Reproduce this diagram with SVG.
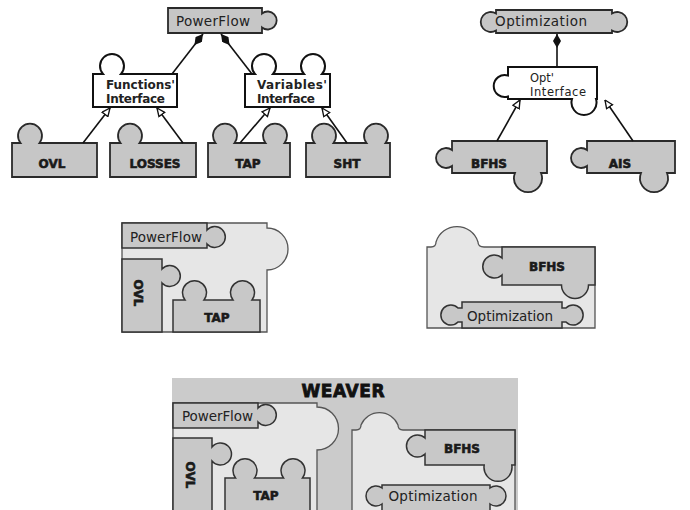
<svg xmlns="http://www.w3.org/2000/svg" width="690" height="510" viewBox="0 0 690 510">
<style>
.pc{fill:#c6c6c6;stroke:#2a2a2a;stroke-width:1.8}
.ifc{fill:#fff;stroke:#111;stroke-width:2}
.ct{fill:#e6e6e6;stroke:#555;stroke-width:1.3}
.pi{fill:#c8c8c8;stroke:#333;stroke-width:1.5}
.lb{font-family:"DejaVu Sans",sans-serif;font-weight:bold;font-size:12px;fill:#1a1a1a;stroke:#1a1a1a;stroke-width:0.6;text-anchor:middle}
.rt{font-family:"DejaVu Sans",sans-serif;font-size:13.5px;fill:#222}
.it{font-family:"DejaVu Sans",sans-serif;font-size:12px;font-weight:bold;fill:#222}
.ot{font-family:"DejaVu Sans",sans-serif;font-size:11.5px;fill:#222}
.wv{font-family:"DejaVu Sans",sans-serif;font-size:17px;font-weight:bold;fill:#111;stroke:#111;stroke-width:0.8;text-anchor:middle}
.conn line{stroke:#111;stroke-width:1.6}
</style>
<defs>
<marker id="tri" viewBox="0 0 10 10" refX="10" refY="5" markerWidth="9" markerHeight="9" orient="auto" markerUnits="userSpaceOnUse"><path d="M1,1 L10,5 L1,9 Z" fill="#fff" stroke="#111" stroke-width="1.5"/></marker>
<marker id="dia" viewBox="0 0 14 8" refX="14" refY="4" markerWidth="14" markerHeight="8" orient="auto" markerUnits="userSpaceOnUse"><path d="M0,4 L7,0 L14,4 L7,8 Z" fill="#111"/></marker>
</defs>
<rect width="690" height="510" fill="#fff"/>

<!-- Top left tree -->
<g id="powerflow">
<path class="pc" d="M168,8 H262 V13.5 A9 9 0 1 1 262,27.5 V33 H168 Z"/>
<text class="rt" x="213" y="26" text-anchor="middle" textLength="74">PowerFlow</text>
</g>
<g id="functions-interface">
<path class="ifc" d="M93,74 H103 A12 12 0 1 1 121,74 H177 V107 H93 Z"/>
<text class="it" x="106" y="89" textLength="69">Functions'</text>
<text class="it" x="106" y="103" textLength="59">Interface</text>
</g>
<g id="variables-interface">
<path class="ifc" d="M245,74 H255 A12 12 0 1 1 273,74 H304 A12 12 0 1 1 322,74 H330 V107 H245 Z"/>
<text class="it" x="257" y="89" textLength="70">Variables'</text>
<text class="it" x="257" y="103" textLength="58">Interface</text>
</g>
<g id="ovl">
<path class="pc" d="M12,143 H20.5 A12 12 0 1 1 39.5,143 H97 V177 H12 Z"/>
<text class="lb" x="52" y="168">OVL</text>
</g>
<g id="losses">
<path class="pc" d="M110,143 H120.5 A12 12 0 1 1 139.5,143 H196 V177 H110 Z"/>
<text class="lb" x="155" y="168">LOSSES</text>
</g>
<g id="tap">
<path class="pc" d="M208,143 H215.5 A12 12 0 1 1 234.5,143 H265.5 A12 12 0 1 1 284.5,143 H290 V177 H208 Z"/>
<text class="lb" x="248" y="168">TAP</text>
</g>
<g id="sht">
<path class="pc" d="M306,143 H314.5 A12 12 0 1 1 333.5,143 H366.5 A12 12 0 1 1 385.5,143 H390 V177 H306 Z"/>
<text class="lb" x="347" y="168">SHT</text>
</g>

<!-- Top right tree -->
<g id="optimization">
<path class="pc" d="M496,10 H612 V13.5 A10 10 0 1 1 612,30.5 V33 H496 V30.5 A10 10 0 1 1 496,13.5 Z"/>
<text class="rt" x="541" y="26" text-anchor="middle" textLength="92">Optimization</text>
</g>
<g id="opt-interface">
<path class="ifc" d="M508,67 H597 V99 H596 A12.5 12.5 0 1 1 572,99 H508 V96.5 A11 11 0 1 1 508,75.5 Z"/>
<text class="ot" x="530" y="82">Opt'</text>
<text class="ot" x="530" y="96" textLength="56">Interface</text>
</g>
<g id="bfhs">
<path class="pc" d="M452,141 H547 V173 H541 A14 14 0 1 1 515,173 H452 V166 A10 10 0 1 1 452,150 Z"/>
<text class="lb" x="489" y="168">BFHS</text>
</g>
<g id="ais">
<path class="pc" d="M587,141 H675 V173 H667 A14 14 0 1 1 641,173 H587 V166 A10 10 0 1 1 587,150 Z"/>
<text class="lb" x="620" y="168">AIS</text>
</g>

<g id="connectors" class="conn">
<line x1="172" y1="74" x2="203" y2="34" marker-end="url(#dia)"/>
<line x1="252" y1="74" x2="221" y2="34" marker-end="url(#dia)"/>
<line x1="557" y1="67" x2="557" y2="34" marker-end="url(#dia)"/>
<line x1="83" y1="143" x2="110" y2="108" marker-end="url(#tri)"/>
<line x1="183" y1="143" x2="157" y2="108" marker-end="url(#tri)"/>
<line x1="240" y1="143" x2="270" y2="108" marker-end="url(#tri)"/>
<line x1="347" y1="143" x2="322" y2="108" marker-end="url(#tri)"/>
<line x1="497" y1="141" x2="520" y2="100" marker-end="url(#tri)"/>
<line x1="633" y1="141" x2="605" y2="100" marker-end="url(#tri)"/>
</g>

<!-- Middle left composite -->
<g id="powerflow-composite">
<path class="ct" d="M122,223 H267 V228 A21 21 0 0 1 267,270 V332 H122 Z"/>
<path class="pi" d="M122,223 H207 V230 A10.5 10.5 0 1 1 207,244 V248 H122 Z"/>
<text class="rt" x="130" y="242" textLength="72">PowerFlow</text>
<path class="pi" d="M122,259 H162 V269 A10.5 10.5 0 1 1 162,283 V332 H122 Z"/>
<text class="lb" x="0" y="0" transform="translate(138,293) rotate(90) translate(0,4.5)">OVL</text>
<path class="pi" d="M173,300 H185 A12 12 0 1 1 204,300 H233 A12 12 0 1 1 252,300 H260 V332 H173 Z"/>
<text class="lb" x="217" y="322">TAP</text>
</g>

<!-- Middle right composite -->
<g id="optimization-composite">
<path class="ct" d="M427,247 H431 Q436,247 436,242 A22 22 0 0 1 478,242 Q478,247 484,247 H595 V328 H427 Z"/>
<path class="pi" d="M502,247 H595 V285 H588.5 A13.5 13.5 0 1 1 561.5,285 H502 V275 A11.5 11.5 0 1 1 502,258 Z"/>
<text class="lb" x="547" y="271">BFHS</text>
<path class="pi" d="M462,302 H562 V308 H566 A10 10 0 1 1 566,322 H562 V328 H462 V322 H458 A10 10 0 1 1 458,308 H462 Z"/>
<text class="rt" x="510" y="321" text-anchor="middle" textLength="86">Optimization</text>
</g>

<!-- Weaver -->
<g id="weaver">
<rect x="172" y="378" width="346" height="134" fill="#cbcbcb"/>
<text class="wv" x="343" y="397" textLength="83">WEAVER</text>
</g>
<g id="weaver-powerflow">
<path class="ct" d="M173,403 H317 V407 A21.5 21.5 0 0 1 317,450 V512 H173 Z"/>
<path class="pi" d="M173,403 H258 V408 A10.5 10.5 0 1 1 258,422 V428 H173 Z"/>
<text class="rt" x="182" y="421" textLength="71">PowerFlow</text>
<path class="pi" d="M173,438 H212 V447 A11 11 0 1 1 212,461 V512 H173 Z"/>
<text class="lb" x="0" y="0" transform="translate(190,475) rotate(90) translate(0,4.5)">OVL</text>
<path class="pi" d="M225,478 H235.5 A12 12 0 1 1 254.5,478 H283.5 A12 12 0 1 1 302.5,478 H310 V512 H225 Z"/>
<text class="lb" x="266" y="500">TAP</text>
</g>
<g id="weaver-optimization">
<path class="ct" d="M352,430 H356 Q361,430 361,425 A20 20 0 0 1 398,425 Q398,430 403,430 H515 V512 H352 Z"/>
<path class="pi" d="M425,430 H515 V465 H511.8 A14 14 0 1 1 484.2,465 H425 V454 A11 11 0 1 1 425,438 Z"/>
<text class="lb" x="462" y="453">BFHS</text>
<path class="pi" d="M382,485 H490 V488 A10 10 0 1 1 490,504 V512 H382 V504 A10 10 0 1 1 382,488 Z"/>
<text class="rt" x="433" y="501" text-anchor="middle" textLength="89">Optimization</text>
</g>
</svg>
